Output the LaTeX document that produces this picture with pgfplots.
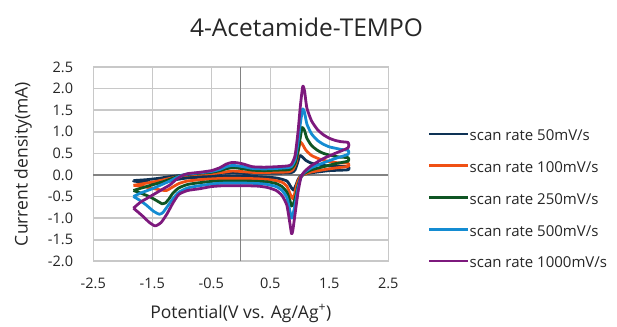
\documentclass[border=0pt]{standalone}
\usepackage{fontspec}
\setmainfont{Open Sans}
\usepackage{pgfplots}
\pgfplotsset{compat=1.18}
\definecolor{cnavy}{RGB}{14,50,85}
\definecolor{corange}{RGB}{240,80,20}
\definecolor{cgreen}{RGB}{15,85,35}
\definecolor{cblue}{RGB}{20,140,210}
\definecolor{cpurple}{RGB}{125,25,125}
\definecolor{cgrid}{RGB}{200,200,200}
\definecolor{caxis}{RGB}{130,130,130}
\begin{document}
\begin{tikzpicture}
\useasboundingbox (0,0) rectangle (617bp,327bp);
\begin{axis}[
  at={(93.3bp,65.7bp)}, anchor=south west,
  scale only axis, width=295bp, height=194.3bp,
  xmin=-2.5, xmax=2.5, ymin=-2, ymax=2.5,
  xtick={-2.5,-1.5,-0.5,0.5,1.5,2.5},
  ytick={-2,-1.5,...,2.5},
  major tick length=0pt,
  grid=major,
  grid style={cgrid, line width=1.6bp},
  axis line style={cgrid, line width=1.6bp},
  extra x ticks={0}, extra x tick labels={},
  extra x tick style={grid style={caxis, line width=1.2bp}},
  extra y ticks={0}, extra y tick labels={},
  extra y tick style={grid style={caxis, line width=1.2bp}},
  /pgf/number format/assume math mode=true,
  /pgf/number format/.cd, fixed, fixed zerofill, precision=1, /pgfplots/.cd,
  ticklabel style={font=\fontsize{14.5bp}{16bp}\selectfont, text=black!85},
  yticklabel style={anchor=east, inner sep=0pt, xshift=-20bp},
  xticklabel style={anchor=center, inner sep=0pt, yshift=-22bp},
  xlabel={Potential(V vs. Ag/Ag\textsuperscript{+})},
  ylabel={Current density(mA)},
  xlabel style={at={(axis description cs:0.5,-0.268)}, anchor=center, font=\fontsize{17.5bp}{19bp}\selectfont, text=black!85},
  ylabel style={at={(axis description cs:-0.2383,0.5)}, anchor=center, font=\fontsize{17.5bp}{19bp}\selectfont, text=black!85},
  title={4-Acetamide-TEMPO},
  title style={at={(axis description cs:0.7227,1.175)}, anchor=center, font=\fontsize{24.5bp}{26bp}\selectfont, text=black!85},
  legend cell align=left,
  legend style={draw=none, fill=none, inner sep=0pt,
    at={(axis description cs:1.1346,0.6639)}, anchor=north west,
    nodes={inner sep=0pt, text height=8bp, text depth=2bp, font=\fontsize{15bp}{16bp}\selectfont, text=black!85},
    row sep=21.8bp, /tikz/every even column/.append style={column sep=1bp}},
  legend image code/.code={\draw[#1, line width=2.5bp] (0bp,3.8bp) -- (39bp,3.8bp);},
  every axis plot/.append style={line width=2.8bp, line join=round, smooth, tension=0.35},
]
\addplot[cnavy] coordinates {
(-1.82,-0.13) (-1.6,-0.11) (-1.4,-0.08) (-1.2,-0.04) (-1.0,-0.01) (-0.7,0.01) (-0.4,0.03) (-0.15,0.05) (0.1,0.04) (0.5,0.04) (0.85,0.05) (0.92,0.12) (0.97,0.32) (1.0,0.45) (1.04,0.42) (1.1,0.34) (1.2,0.27) (1.4,0.22) (1.6,0.2) (1.82,0.19)
(1.82,0.12) (1.5,0.1) (1.2,0.05) (1.05,0.01) (0.98,-0.08) (0.93,-0.25) (0.89,-0.35) (0.85,-0.28) (0.78,-0.14) (0.6,-0.07) (0.3,-0.04) (0.0,-0.03) (-0.5,-0.04) (-0.9,-0.07) (-1.15,-0.12) (-1.3,-0.18) (-1.45,-0.19) (-1.65,-0.17) (-1.82,-0.14) (-1.82,-0.13)
};
\addlegendentry{scan rate 50mV/s}
\addplot[corange] coordinates {
(-1.82,-0.24) (-1.6,-0.19) (-1.4,-0.14) (-1.2,-0.08) (-1.0,-0.02) (-0.8,0.01) (-0.5,0.03) (-0.3,0.06) (-0.15,0.09) (0.0,0.08) (0.2,0.06) (0.5,0.06) (0.8,0.07) (0.88,0.12) (0.94,0.3) (0.98,0.6) (1.01,0.76) (1.05,0.7) (1.1,0.58) (1.2,0.45) (1.35,0.36) (1.5,0.31) (1.65,0.28) (1.82,0.27)
(1.82,0.2) (1.6,0.16) (1.4,0.12) (1.2,0.07) (1.08,0.02) (1.0,-0.06) (0.95,-0.22) (0.91,-0.45) (0.88,-0.55) (0.84,-0.45) (0.78,-0.26) (0.7,-0.17) (0.55,-0.12) (0.3,-0.09) (0.0,-0.08) (-0.3,-0.08) (-0.6,-0.1) (-0.9,-0.14) (-1.05,-0.2) (-1.18,-0.3) (-1.26,-0.36) (-1.35,-0.35) (-1.5,-0.31) (-1.65,-0.27) (-1.82,-0.24)
};
\addlegendentry{scan rate 100mV/s}
\addplot[cgreen] coordinates {
(-1.82,-0.36) (-1.7,-0.31) (-1.6,-0.27) (-1.5,-0.23) (-1.4,-0.19) (-1.3,-0.15) (-1.2,-0.1) (-1.1,-0.05) (-1.0,-0.01) (-0.9,0.01) (-0.7,0.04) (-0.5,0.06) (-0.35,0.1) (-0.25,0.14) (-0.15,0.17) (-0.05,0.16) (0.05,0.14) (0.2,0.11) (0.4,0.1) (0.6,0.11) (0.8,0.12) (0.86,0.15) (0.92,0.27) (0.97,0.55) (1.01,0.88) (1.04,1.1) (1.08,1.03) (1.12,0.85) (1.2,0.68) (1.3,0.57) (1.4,0.5) (1.5,0.46) (1.6,0.43) (1.7,0.41) (1.82,0.40)
(1.82,0.32) (1.6,0.26) (1.4,0.19) (1.2,0.12) (1.08,0.04) (1.02,-0.05) (0.97,-0.25) (0.92,-0.55) (0.88,-0.7) (0.86,-0.72) (0.83,-0.58) (0.78,-0.4) (0.7,-0.27) (0.6,-0.2) (0.45,-0.16) (0.3,-0.15) (0.1,-0.14) (-0.1,-0.14) (-0.3,-0.14) (-0.5,-0.15) (-0.7,-0.18) (-0.9,-0.22) (-1.05,-0.3) (-1.15,-0.42) (-1.22,-0.56) (-1.28,-0.65) (-1.33,-0.67) (-1.42,-0.6) (-1.55,-0.5) (-1.7,-0.42) (-1.82,-0.36)
};
\addlegendentry{scan rate 250mV/s}
\addplot[cblue] coordinates {
(-1.82,-0.50) (-1.7,-0.42) (-1.6,-0.37) (-1.5,-0.32) (-1.4,-0.26) (-1.3,-0.2) (-1.2,-0.14) (-1.1,-0.07) (-1.0,-0.01) (-0.9,0.02) (-0.7,0.05) (-0.5,0.08) (-0.35,0.13) (-0.25,0.19) (-0.15,0.22) (-0.05,0.21) (0.05,0.19) (0.2,0.15) (0.4,0.14) (0.6,0.15) (0.8,0.17) (0.86,0.2) (0.92,0.35) (0.97,0.75) (1.01,1.2) (1.05,1.53) (1.08,1.45) (1.12,1.18) (1.2,0.95) (1.3,0.8) (1.4,0.71) (1.5,0.65) (1.6,0.62) (1.7,0.59) (1.82,0.57)
(1.82,0.48) (1.6,0.38) (1.4,0.28) (1.2,0.17) (1.08,0.06) (1.02,-0.05) (0.97,-0.3) (0.92,-0.68) (0.88,-0.95) (0.86,-1.0) (0.83,-0.82) (0.78,-0.52) (0.7,-0.36) (0.6,-0.27) (0.45,-0.22) (0.3,-0.2) (0.1,-0.19) (-0.1,-0.19) (-0.3,-0.19) (-0.5,-0.21) (-0.7,-0.25) (-0.9,-0.3) (-1.05,-0.4) (-1.15,-0.55) (-1.25,-0.74) (-1.32,-0.87) (-1.38,-0.91) (-1.48,-0.84) (-1.6,-0.7) (-1.72,-0.58) (-1.82,-0.5)
};
\addlegendentry{scan rate 500mV/s}
\addplot[cpurple] coordinates {
(-1.82,-0.77) (-1.7,-0.63) (-1.6,-0.55) (-1.5,-0.47) (-1.4,-0.39) (-1.3,-0.31) (-1.2,-0.23) (-1.1,-0.11) (-1.0,-0.02) (-0.9,0.03) (-0.7,0.06) (-0.5,0.10) (-0.35,0.17) (-0.25,0.25) (-0.15,0.29) (-0.05,0.28) (0.05,0.25) (0.2,0.19) (0.4,0.18) (0.6,0.19) (0.8,0.21) (0.86,0.25) (0.92,0.45) (0.97,1.0) (1.01,1.6) (1.05,2.05) (1.08,1.95) (1.12,1.55) (1.2,1.25) (1.3,1.05) (1.4,0.93) (1.5,0.85) (1.6,0.8) (1.7,0.77) (1.82,0.75)
(1.82,0.63) (1.6,0.5) (1.4,0.38) (1.2,0.22) (1.08,0.08) (1.02,-0.05) (0.97,-0.4) (0.92,-0.9) (0.88,-1.3) (0.86,-1.36) (0.83,-1.1) (0.78,-0.7) (0.7,-0.48) (0.6,-0.36) (0.45,-0.29) (0.3,-0.26) (0.1,-0.25) (-0.1,-0.25) (-0.3,-0.25) (-0.5,-0.27) (-0.7,-0.32) (-0.9,-0.36) (-1.05,-0.45) (-1.15,-0.65) (-1.25,-0.9) (-1.35,-1.1) (-1.45,-1.18) (-1.55,-1.1) (-1.65,-0.97) (-1.75,-0.85) (-1.82,-0.77)
};
\addlegendentry{scan rate 1000mV/s}
\end{axis}
\end{tikzpicture}
\end{document}
